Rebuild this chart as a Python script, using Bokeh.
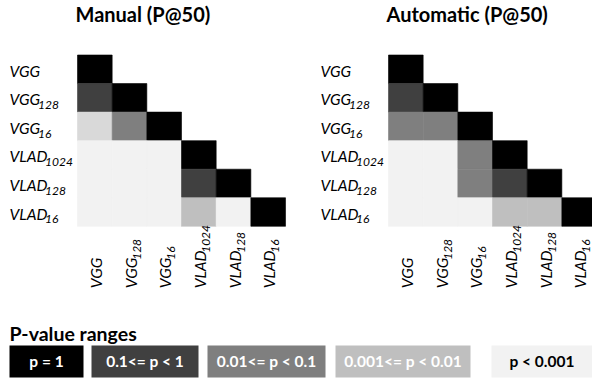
from math import pi
from bokeh.plotting import figure
from bokeh.models import Range1d
from bokeh.core.properties import value
from bokeh.embed import file_html
from bokeh.resources import INLINE

# ---------------- data ----------------
label_main = ["VGG", "VGG", "VGG", "VLAD", "VLAD", "VLAD"]
label_sub = ["", "128", "16", "1024", "128", "16"]

# shade index per lower-triangle cell (row i, columns 0..i)
level_colors = ["#000000", "#404040", "#7f7f7f", "#bfbfbf", "#f2f2f2", "#d9d9d9"]
manual_levels = [
    [0],
    [1, 0],
    [5, 2, 0],
    [4, 4, 4, 0],
    [4, 4, 4, 1, 0],
    [4, 4, 4, 3, 4, 0],
]
automatic_levels = [
    [0],
    [1, 0],
    [2, 2, 0],
    [4, 4, 2, 0],
    [4, 4, 2, 1, 0],
    [4, 4, 4, 3, 3, 0],
]
panel_titles = ["Manual (P@50)", "Automatic (P@50)"]

legend_title = "P-value ranges"
legend_labels = ["p = 1", "0.1<= p < 1", "0.01<= p < 0.1", "0.001<= p < 0.01", "p < 0.001"]
legend_colors = ["#000000", "#404040", "#7f7f7f", "#bfbfbf", "#f2f2f2"]
legend_text_colors = ["#ffffff", "#ffffff", "#ffffff", "#ffffff", "#000000"]

# ---------------- layout constants ----------------
W, H = 592, 379
FONT = value("Lato")
CW = 34.67           # cell width (px)
CH = 28.55           # cell height (px)
GRID_LEFT = 77.0     # px, left panel grid
GRID_TOP = 54.5      # px
PANEL_OFFSET = (388.0 - 77.0) / CW   # right panel offset in cell units
SUB_DX = {"VGG": 28.5, "VLAD": 35.5}
MAIN_SIZE, SUB_SIZE = "15.5px", "12px"


def X(px):
    return (px - GRID_LEFT) / CW


def Y(py):
    return (py - GRID_TOP) / CH


p = figure(width=W, height=H,
           x_range=Range1d(X(0), X(W)), y_range=Range1d(Y(H), Y(0)),
           x_axis_type=None, y_axis_type=None,
           output_backend="svg", toolbar_location=None, min_border=0)
p.grid.visible = False
p.outline_line_color = None

n = len(label_main)
idx = list(range(n))
subs_dx = [SUB_DX[m] for m in label_main]

for k, (title, levels) in enumerate(zip(panel_titles, [manual_levels, automatic_levels])):
    off = k * PANEL_OFFSET
    xs, ys, cs = [], [], []
    for i, r in enumerate(levels):
        for j, lv in enumerate(r):
            xs.append(off + j + 0.5)
            ys.append(i + 0.5)
            cs.append(level_colors[lv])
    p.rect(x=xs, y=ys, width=1, height=1, fill_color=cs, line_color=cs, line_width=0.6)

    # title
    p.text(x=[off], y=[0], text=[title], x_offset=-2, y_offset=-41.5,
           text_font=FONT, text_font_style="bold", text_font_size="20px",
           text_align="left", text_baseline="middle", text_color="#000000")

    # row labels
    p.text(x=[off] * n, y=[i + 0.5 for i in idx], text=label_main,
           x_offset=-68, y_offset=1.5,
           text_font=FONT, text_font_style="italic", text_font_size=MAIN_SIZE,
           text_align="left", text_baseline="middle", text_color="#000000")
    p.text(x=[off] * n, y=[i + 0.5 for i in idx], text=label_sub,
           x_offset=[-68 + d for d in subs_dx], y_offset=7.3,
           text_font=FONT, text_font_style="italic", text_font_size=SUB_SIZE,
           text_align="left", text_baseline="middle", text_color="#000000")
    # column labels (rotated)
    p.text(x=[off + j + 0.5 for j in idx], y=[len(levels)] * n, text=label_main,
           x_offset=1, y_offset=62, angle=pi / 2,
           text_font=FONT, text_font_style="italic", text_font_size=MAIN_SIZE,
           text_align="left", text_baseline="middle", text_color="#000000")
    p.text(x=[off + j + 0.5 for j in idx], y=[len(levels)] * n, text=label_sub,
           x_offset=7, y_offset=[62 - d for d in subs_dx], angle=pi / 2,
           text_font=FONT, text_font_style="italic", text_font_size=SUB_SIZE,
           text_align="left", text_baseline="middle", text_color="#000000")

# ---------------- legend ----------------
box_lefts = [9, 91, 207, 335, 491]
box_rights = [83, 198, 325, 470, 592]
p.quad(left=[X(v) for v in box_lefts], right=[X(v) for v in box_rights],
       top=[Y(345)] * 5, bottom=[Y(377)] * 5,
       fill_color=legend_colors, line_color=None)
p.text(x=[X((a + b) / 2) for a, b in zip(box_lefts, box_rights)], y=[Y(360)] * 5,
       text=legend_labels, text_color=legend_text_colors,
       text_font=FONT, text_font_style="bold", text_font_size="15.5px",
       text_align="center", text_baseline="middle")
p.text(x=[X(9)], y=[Y(332.5)], text=[legend_title], text_color="#000000",
       text_font=FONT, text_font_style="bold", text_font_size="19.5px",
       text_align="left", text_baseline="middle")

open("out.html", "w").write(file_html(p, INLINE))
